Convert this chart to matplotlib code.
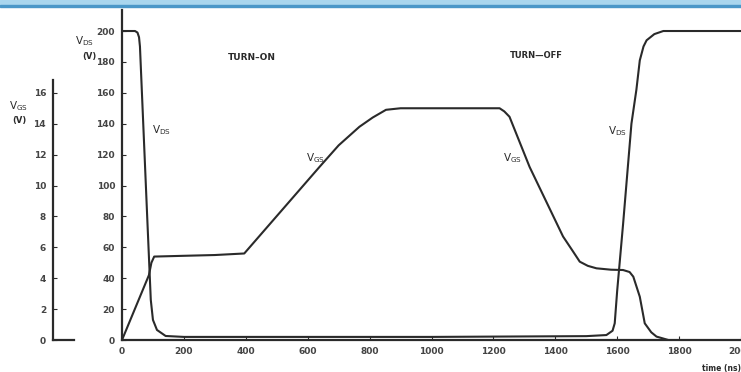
import matplotlib.pyplot as plt
from matplotlib.patches import Rectangle

# V_DS (V) against time (ns)
vds_t = [0, 42, 50, 55, 58, 82, 93, 100, 113, 141, 200, 1000, 1500, 1565, 1585, 1592,
         1600, 1619, 1646, 1662, 1673, 1685, 1695, 1720, 1749, 2000]
vds_v = [200, 200, 199, 196, 190, 77, 26, 13, 6.5, 2.6, 2, 2, 2.5, 3.2, 6, 10.8,
         32, 75, 140, 162, 181, 190, 194, 198, 200, 200]

# V_GS (V) against time (ns)
vgs_t = [0, 87, 95, 104, 200, 300, 395, 638, 700, 767, 810, 853, 900, 1026, 1220, 1235,
         1252, 1317, 1425, 1455, 1479, 1505, 1533, 1580, 1619, 1640, 1652, 1673, 1689,
         1710, 1727, 1748, 1765]
vgs_v = [0, 4.2, 5.0, 5.4, 5.45, 5.5, 5.6, 11.2, 12.6, 13.8, 14.4, 14.9, 15.0, 15.0, 15.0,
         14.8, 14.45, 11.2, 6.7, 5.8, 5.07, 4.8, 4.64, 4.55, 4.53, 4.4, 4.1, 2.8, 1.08,
         0.5, 0.22, 0.1, 0]

vds_ticks = [0, 20, 40, 60, 80, 100, 120, 140, 160, 180, 200]
vgs_ticks = [0, 2, 4, 6, 8, 10, 12, 14, 16]
time_ticks = [0, 200, 400, 600, 800, 1000, 1200, 1400, 1600, 1800, 2000]

W, H = 741, 372
fig = plt.figure(figsize=(W / 100, H / 100), dpi=100)
plt.rcParams['font.family'] = 'DejaVu Sans'
ink = '#2a2a2a'
fs = 6.5

def fx(px):
    return px / W

def fy(py):
    return 1 - py / H

# main axes
ax = fig.add_axes([fx(122), fy(340), fx(741) - fx(122), fy(10) - fy(340)])
ax.set_xlim(0, 2000)
ax.set_ylim(0, 213.6)
for s in ['top', 'right']:
    ax.spines[s].set_visible(False)
for s in ['left', 'bottom']:
    ax.spines[s].set_linewidth(1.6)
    ax.spines[s].set_color(ink)
ax.set_xticks(time_ticks)
ax.set_yticks(vds_ticks)
ax.tick_params(direction='in', length=3, width=0.8, colors=ink, labelsize=fs, pad=5)
for lab in ax.get_xticklabels() + ax.get_yticklabels():
    lab.set_fontweight('bold')
    lab.set_color('#444444')
ax.patch.set_alpha(0)

ax.plot(vds_t, vds_v, color=ink, lw=1.5, solid_joinstyle='round')
ax.plot(vgs_t, [v * 10 for v in vgs_v], color=ink, lw=1.5, solid_joinstyle='round')

# annotations
def lbl(x, y, sub):
    ax.text(x, y, f'V$_{{\\mathrm{{{sub}}}}}$', fontsize=7.5, color=ink,
            ha='center', va='center')

lbl(128, 136, 'DS')
lbl(625, 118, 'GS')
lbl(1262, 118, 'GS')
lbl(1600, 135, 'DS')
ax.text(420, 183, 'TURN\u2013ON', fontsize=fs, fontweight='bold', color=ink,
        ha='center', va='center')
ax.text(1340, 184, 'TURN\u2014OFF', fontsize=fs - 0.5, fontweight='bold', color=ink,
        ha='center', va='center')
fig.text(fx(722), fy(368), 'time (ns)', fontsize=5.5, fontweight='bold', color=ink,
         ha='center', va='center')

# V_DS axis label
fig.text(fx(84), fy(41), 'V$_{\\mathrm{DS}}$', fontsize=7.5, color=ink, ha='center', va='center')
fig.text(fx(89), fy(57), '(V)', fontsize=6, fontweight='bold', color=ink, ha='center', va='center')

# V_GS secondary axis
ax2 = fig.add_axes([fx(53), fy(340), fx(74) - fx(53), fy(10) - fy(340)])
ax2.set_ylim(0, 21.36)
ax2.set_xlim(0, 1)
ax2.patch.set_alpha(0)
for s in ['top', 'right']:
    ax2.spines[s].set_visible(False)
ax2.spines['left'].set_bounds(0, 16.8)
for s in ['left', 'bottom']:
    ax2.spines[s].set_linewidth(1.6)
    ax2.spines[s].set_color(ink)
ax2.set_xticks([])
ax2.set_yticks(vgs_ticks)
ax2.tick_params(direction='in', length=3, width=0.8, colors=ink, labelsize=fs, pad=5)
for lab in ax2.get_yticklabels():
    lab.set_fontweight('bold')
    lab.set_color('#444444')
fig.text(fx(19), fy(106), 'V$_{\\mathrm{GS}}$', fontsize=7.5, color=ink, ha='center', va='center')
fig.text(fx(19), fy(121), '(V)', fontsize=6, fontweight='bold', color=ink, ha='center', va='center')

# scan band along the top edge
fig.patches.append(Rectangle((0, fy(5)), 1, fy(0) - fy(5), transform=fig.transFigure,
                             color='#a9d6ee', zorder=0))
fig.patches.append(Rectangle((0, fy(7)), 1, fy(5) - fy(7), transform=fig.transFigure,
                             color='#4a97c8', zorder=0))

fig.savefig('out.png', dpi=100)
